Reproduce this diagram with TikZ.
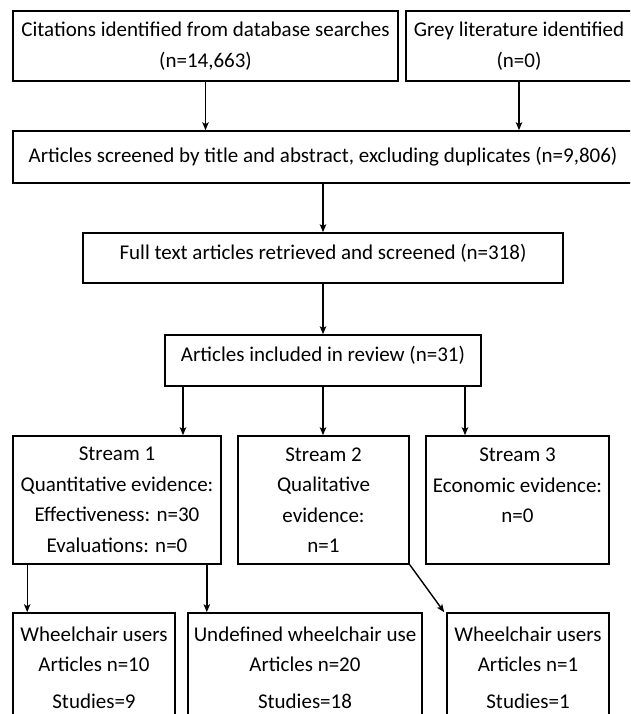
\documentclass[tikz,border=0pt]{standalone}
\usepackage{fontspec}
\setmainfont{Carlito}
\usetikzlibrary{arrows.meta}
\tikzset{
 box/.style={draw,line width=1.6pt,inner xsep=1pt,inner ysep=2pt,align=center,font=\fontsize{21}{30.5}\selectfont},
 arr/.style={line width=1.4pt,-{Stealth[length=8pt,width=6.5pt,inset=2pt]}}
}
\begin{document}
\begin{tikzpicture}[x=1pt,y=-1pt]
 \useasboundingbox (0,0) rectangle (630,714);
 \clip (0,0) rectangle (630,714);
 % top row
 \node[box,minimum width=385pt,minimum height=70pt] (cit) at (205.5,46) {Citations identified from database searches\\(n=14,663)};
 \node[box,minimum width=226pt,minimum height=70pt] (grey) at (519,46) {Grey literature identified\\(n=0)};
 \node[box,minimum width=620pt,minimum height=52pt] (scr) at (323,157) {Articles screened by title and abstract, excluding duplicates (n=9,806)};
 \node[box,minimum width=480pt,minimum height=50pt,text depth=13pt] (full) at (323,258) {Full text articles retrieved and screened (n=318)};
 \node[box,minimum width=316pt,minimum height=51pt,text depth=14pt] (inc) at (323,360.5) {Articles included in review (n=31)};
 % streams
 \node[box,minimum width=208pt,minimum height=128pt] (s1) at (117,500) {Stream 1\\Quantitative evidence:\\Effectiveness: n=30\\Evaluations: n=0};
 \node[box,minimum width=171pt,minimum height=128pt] (s2) at (323.5,500) {Stream 2\\Qualitative\\evidence:\\n=1};
 \node[box,minimum width=183pt,minimum height=128pt,text depth=29pt] (s3) at (517.5,500) {Stream 3\\Economic evidence:\\n=0};
 % bottom row
 \node[box,minimum width=162pt,minimum height=109pt] (wa) at (94,667.5) {Wheelchair users\\Articles n=10\\[6pt]Studies=9};
 \node[box,minimum width=234pt,minimum height=109pt] (wb) at (305,667.5) {Undefined wheelchair use\\Articles n=20\\[6pt]Studies=18};
 \node[box,minimum width=162pt,minimum height=109pt] (wc) at (528,667.5) {Wheelchair users\\Articles n=1\\[6pt]Studies=1};
 % arrows
 \draw[arr] (cit.south) -- (cit.south |- scr.north);
 \draw[arr] (grey.south) -- (grey.south |- scr.north);
 \draw[arr] (scr.south) -- (full.north);
 \draw[arr] (full.south) -- (inc.north);
 \draw[arr] ([xshift=-140pt]inc.south) -- ([xshift=-140pt]inc.south |- s1.north);
 \draw[arr] (inc.south) -- (inc.south |- s2.north);
 \draw[arr] ([xshift=142pt]inc.south) -- ([xshift=142pt]inc.south |- s3.north);
 \draw[arr] ([xshift=15pt]s1.south west) -- ([xshift=15pt]s1.south west |- wa.north);
 \draw[arr] ([xshift=-15pt]s1.south east) -- ([xshift=-15pt]s1.south east |- wb.north);
 \draw[arr] (s2.south east) -- ([xshift=-2pt]wc.north west);
\end{tikzpicture}
\end{document}
